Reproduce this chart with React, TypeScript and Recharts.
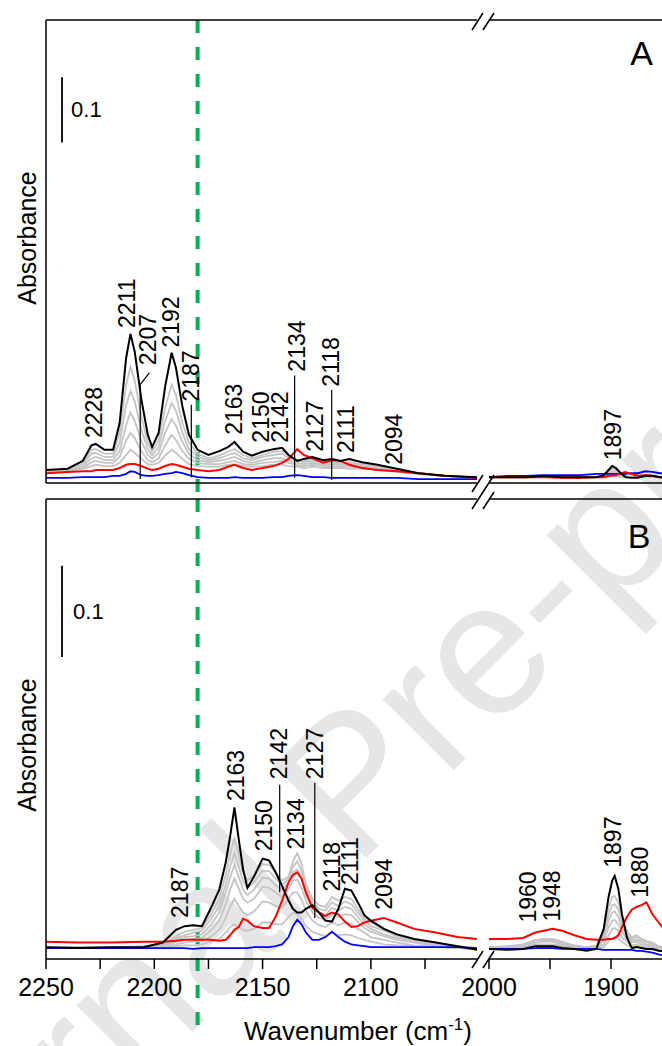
import React from 'react'
import { LineChart, Line, XAxis, YAxis, ReferenceLine, ReferenceDot } from 'recharts'

const PAGE_W = 662
const PAGE_H = 1046
const CHART_W = 700
const FONT = "'Liberation Sans', Arial, Helvetica, sans-serif"
const GREY = '#c4c4c4'
const GREEN = '#00b050'
const GUIDE_W = 2180 // green dashed guide, cm-1

// All absorbances are x1000 (mAbs). Left segments 2250-2051 cm-1, right 2000-1850 cm-1.

// ---- Panel A ----
const A_L_W = [2250, 2240, 2233, 2229, 2227, 2223, 2219, 2216, 2213, 2211, 2209, 2206, 2203, 2201, 2198, 2195, 2192, 2190, 2187, 2184, 2180, 2175, 2170, 2166, 2163, 2159, 2155, 2150, 2145, 2141, 2138, 2134, 2131, 2127, 2122, 2118, 2114, 2110, 2104, 2097, 2088, 2078, 2066, 2051]
const A_L_BLACK = [20, 22, 34, 58, 60, 51, 51, 92, 192, 229, 201, 129, 74, 55, 77, 148, 200, 177, 117, 74, 51, 43, 49, 55, 63, 48, 42, 48, 52, 54, 43, 34, 37, 40, 35, 37, 34, 37, 32, 28, 22, 15, 11, 9]
const A_L_RED = [15, 17, 18, 18, 20, 20, 20, 23, 28, 29, 29, 26, 22, 20, 22, 26, 29, 28, 25, 22, 20, 18, 20, 25, 28, 23, 20, 23, 26, 31, 37, 52, 43, 38, 31, 35, 34, 28, 23, 20, 18, 15, 11, 8]
const A_L_BLUE = [8, 8, 9, 9, 9, 9, 11, 11, 14, 18, 17, 12, 11, 11, 12, 14, 15, 17, 15, 12, 9, 8, 8, 8, 9, 8, 8, 8, 9, 9, 11, 12, 11, 9, 9, 8, 8, 8, 8, 8, 8, 6, 6, 6]
const A_L_GREYS = [
  [20, 20, 32, 51, 52, 45, 45, 77, 151, 178, 157, 102, 62, 48, 65, 115, 151, 135, 92, 62, 45, 38, 42, 48, 52, 43, 38, 43, 48, 49, 42, 35, 34, 37, 32, 34, 31, 32, 29, 26, 20, 15, 11, 8],
  [18, 20, 29, 45, 46, 40, 40, 62, 120, 141, 125, 82, 52, 42, 55, 95, 123, 111, 77, 52, 40, 35, 38, 43, 46, 38, 35, 40, 43, 45, 38, 34, 32, 34, 31, 31, 29, 31, 28, 25, 20, 15, 11, 8],
  [18, 18, 26, 38, 40, 35, 35, 49, 89, 108, 95, 65, 43, 37, 46, 77, 98, 88, 63, 45, 35, 32, 34, 37, 40, 34, 31, 35, 38, 38, 34, 31, 29, 31, 28, 29, 28, 28, 26, 23, 18, 14, 11, 8],
  [18, 18, 23, 32, 34, 31, 31, 40, 65, 77, 69, 49, 35, 32, 38, 58, 74, 66, 49, 37, 31, 29, 29, 32, 34, 29, 28, 31, 32, 34, 31, 28, 26, 28, 26, 26, 25, 25, 23, 22, 18, 14, 11, 8],
  [18, 18, 22, 26, 28, 26, 26, 31, 43, 51, 46, 37, 29, 28, 31, 42, 51, 46, 37, 29, 26, 25, 25, 28, 29, 26, 25, 26, 28, 28, 26, 25, 23, 25, 23, 23, 23, 22, 22, 20, 17, 14, 11, 8],
]

const A_R_W = [2000, 1985, 1970, 1955, 1940, 1925, 1912, 1906, 1902, 1899, 1896, 1892, 1888, 1884, 1878, 1872, 1866, 1860, 1850]
const A_R_BLACK = [9, 9, 9, 11, 9, 9, 9, 12, 20, 26, 23, 15, 9, 8, 8, 11, 11, 9, 9]
const A_R_RED = [9, 9, 9, 9, 8, 8, 9, 9, 11, 11, 12, 15, 17, 14, 11, 12, 11, 9, 9]
const A_R_BLUE = [9, 11, 11, 12, 12, 12, 14, 14, 14, 14, 14, 14, 14, 15, 15, 18, 17, 15, 15]
const A_R_GREYS = [
  [9, 9, 9, 9, 9, 9, 9, 11, 17, 22, 20, 14, 11, 9, 9, 11, 11, 9, 9],
  [9, 9, 9, 9, 9, 9, 9, 11, 14, 18, 17, 12, 11, 9, 9, 9, 9, 9, 9],
  [9, 9, 9, 9, 9, 9, 9, 11, 12, 15, 14, 11, 9, 9, 9, 9, 9, 9, 9],
  [9, 9, 9, 9, 9, 9, 9, 9, 11, 12, 12, 11, 9, 9, 9, 9, 9, 9, 9],
  [9, 9, 9, 9, 9, 9, 9, 9, 9, 11, 11, 9, 9, 9, 9, 9, 9, 9, 9],
]

// ---- Panel B ----
const B_L_W = [2250, 2235, 2220, 2205, 2196, 2190, 2186, 2182, 2178, 2174, 2170, 2167, 2165, 2163, 2161, 2159, 2157, 2154, 2150, 2147, 2144, 2141, 2138, 2136, 2134, 2132, 2130, 2127, 2124, 2121, 2118, 2115, 2112, 2109, 2106, 2103, 2100, 2094, 2088, 2080, 2070, 2060, 2051]
const B_L_BLACK = [13, 12, 13, 13, 18, 32, 36, 37, 36, 55, 76, 106, 134, 166, 131, 98, 78, 90, 110, 108, 95, 80, 64, 55, 51, 51, 55, 59, 51, 42, 41, 55, 77, 75, 62, 48, 42, 33, 27, 22, 18, 14, 10]
const B_L_RED = [19, 18, 18, 19, 19, 20, 21, 21, 21, 21, 20, 21, 26, 32, 35, 44, 42, 36, 34, 34, 46, 64, 84, 92, 95, 88, 73, 56, 51, 47, 51, 49, 41, 35, 36, 40, 42, 45, 40, 33, 29, 24, 22]
const B_L_BLUE = [12, 12, 12, 12, 12, 12, 12, 11, 12, 12, 12, 12, 12, 12, 12, 12, 12, 13, 13, 13, 14, 16, 24, 36, 43, 38, 29, 21, 21, 24, 30, 24, 19, 16, 15, 14, 13, 13, 13, 13, 13, 13, 12]
const B_L_GREYS = [
  [13, 13, 13, 14, 16, 25, 30, 32, 34, 48, 66, 93, 114, 133, 114, 95, 86, 92, 104, 103, 95, 86, 90, 107, 116, 104, 82, 66, 59, 57, 68, 64, 68, 66, 55, 45, 40, 33, 27, 22, 18, 14, 12],
  [13, 13, 13, 13, 15, 23, 26, 29, 31, 43, 58, 82, 101, 116, 101, 85, 78, 84, 97, 96, 88, 81, 88, 101, 107, 96, 77, 62, 55, 53, 62, 58, 63, 60, 51, 42, 36, 31, 25, 21, 16, 14, 12],
  [13, 12, 13, 13, 15, 21, 24, 25, 27, 37, 51, 73, 89, 103, 90, 76, 70, 76, 89, 88, 81, 76, 84, 95, 98, 88, 71, 57, 51, 48, 56, 53, 57, 55, 46, 38, 33, 27, 23, 19, 15, 13, 12],
  [12, 12, 12, 13, 14, 19, 21, 22, 23, 31, 42, 60, 76, 88, 77, 66, 62, 66, 79, 78, 73, 68, 77, 86, 87, 78, 64, 51, 45, 43, 48, 46, 49, 48, 41, 34, 30, 25, 21, 18, 14, 13, 11],
  [12, 12, 12, 12, 13, 16, 18, 19, 20, 24, 32, 45, 57, 66, 58, 51, 48, 52, 63, 62, 58, 56, 66, 73, 73, 65, 53, 42, 37, 35, 40, 37, 40, 38, 33, 29, 24, 21, 18, 15, 13, 12, 11],
  [12, 12, 12, 12, 13, 14, 15, 15, 16, 19, 22, 29, 35, 38, 35, 32, 31, 33, 40, 40, 38, 38, 46, 51, 49, 44, 36, 30, 27, 25, 29, 26, 27, 26, 23, 21, 19, 16, 15, 14, 13, 12, 11],
]

const B_R_W = [2000, 1985, 1972, 1962, 1955, 1948, 1940, 1930, 1920, 1912, 1906, 1902, 1899, 1897, 1894, 1891, 1887, 1883, 1879, 1875, 1871, 1866, 1861, 1850]
const B_R_BLACK = [11, 10, 11, 14, 14, 14, 12, 11, 9, 11, 33, 68, 86, 91, 77, 49, 24, 12, 13, 12, 11, 11, 9, 8]
const B_R_RED = [22, 22, 23, 29, 31, 33, 31, 26, 22, 21, 21, 22, 22, 23, 26, 35, 46, 54, 57, 59, 62, 49, 40, 22]
const B_R_BLUE = [11, 11, 11, 12, 12, 12, 11, 11, 11, 11, 10, 10, 10, 10, 10, 10, 10, 10, 9, 9, 8, 7, 5, 2]
const B_R_GREYS = [
  [13, 14, 16, 21, 22, 22, 19, 15, 13, 15, 31, 57, 68, 69, 62, 46, 31, 24, 26, 22, 20, 18, 14, 11],
  [13, 13, 15, 20, 21, 20, 18, 14, 13, 14, 26, 49, 59, 60, 54, 41, 27, 22, 24, 21, 19, 16, 13, 11],
  [12, 13, 14, 18, 19, 19, 16, 14, 12, 13, 23, 42, 51, 52, 46, 35, 25, 20, 21, 19, 16, 15, 13, 10],
  [12, 12, 13, 16, 16, 16, 15, 13, 12, 13, 20, 34, 42, 43, 38, 30, 22, 18, 19, 16, 15, 14, 12, 10],
  [12, 12, 13, 14, 15, 15, 14, 12, 11, 12, 16, 26, 33, 34, 31, 24, 19, 15, 16, 14, 13, 13, 11, 9],
  [11, 11, 12, 13, 13, 13, 12, 11, 11, 11, 13, 19, 23, 24, 22, 19, 15, 13, 13, 12, 12, 11, 10, 9],
]

// peak labels: text, wavenumber, absorbance (x1000) at the foot of the label
type Peak = { text: string; w: number; v: number }
const A_L_PEAKS: Peak[] = [
  { text: '2228', w: 2227.8, v: 69 },
  { text: '2211', w: 2212.5, v: 238 },
  { text: '2207', w: 2202.8, v: 181 },
  { text: '2192', w: 2192.1, v: 208 },
  { text: '2187', w: 2182.9, v: 125 },
  { text: '2163', w: 2163, v: 74 },
  { text: '2150', w: 2150.5, v: 62 },
  { text: '2142', w: 2142.1, v: 62 },
  { text: '2134', w: 2134.3, v: 171 },
  { text: '2127', w: 2125.9, v: 48 },
  { text: '2118', w: 2118.5, v: 148 },
  { text: '2111', w: 2111.6, v: 46 },
  { text: '2094', w: 2089.4, v: 28 },
]
const A_R_PEAKS: Peak[] = [{ text: '1897', w: 1898.4, v: 35 }]
const B_L_PEAKS: Peak[] = [
  { text: '2187', w: 2188, v: 45 },
  { text: '2163', w: 2162.5, v: 173 },
  { text: '2150', w: 2149.5, v: 118 },
  { text: '2142', w: 2142.6, v: 197 },
  { text: '2134', w: 2134.7, v: 120 },
  { text: '2127', w: 2126, v: 197 },
  { text: '2118', w: 2118.1, v: 74 },
  { text: '2111', w: 2109.7, v: 81 },
  { text: '2094', w: 2094, v: 54 },
]
const B_R_PEAKS: Peak[] = [
  { text: '1960', w: 1968, v: 40 },
  { text: '1948', w: 1948.4, v: 41 },
  { text: '1897', w: 1898.4, v: 100 },
  { text: '1880', w: 1876.2, v: 67 },
]

// leader lines [w1, v1, w2, v2]
const A_L_LEADERS = [
  [2202.3, 169, 2206.5, 151],
  [2206.5, 151, 2206.5, 6],
  [2182.9, 120, 2182.9, 9],
  [2135.2, 165, 2135.2, 8],
  [2118.1, 143, 2118.1, 5],
]
const B_L_LEADERS = [
  [2142.1, 191, 2142.1, 73],
  [2125.9, 193, 2125.9, 45],
]

const LEFT_TICKS = [2250, 2225, 2200, 2175, 2150, 2125, 2100, 2075]
const RIGHT_TICKS = [2000, 1950, 1900, 1850]
const A_YTICKS = Array.from({ length: 28 }, (_, i) => 13 + 25 * i)
const B_YTICKS = Array.from({ length: 11 }, (_, i) => 4 + 50 * i)

const AXIS = { stroke: '#000', strokeWidth: 1.5 }

const vText = (text: string) => (p: any) => (
  <text x={p.cx} y={p.cy} transform={`rotate(-90 ${p.cx} ${p.cy})`} fontSize={23} fontFamily={FONT}
    fill="#000" dominantBaseline="central">{text}</text>
)
const hText = (text: string, size: number, anchor: 'start' | 'middle') => (p: any) => (
  <text x={p.cx} y={p.cy} fontSize={size} fontFamily={FONT} fill="#000" textAnchor={anchor}
    dominantBaseline="central">{text}</text>
)
const makeTick = (every: number) => (p: any) => {
  if (p.payload.value % every !== 0) return <g />
  return (
    <text x={p.x} y={p.y + 25} textAnchor="middle" fontSize={25} fontFamily={FONT} fill="#000">
      {p.payload.value}
    </text>
  )
}

type SegProps = {
  w: number[]; black: number[]; red: number[]; blue: number[]; greys: number[][]
  xDomain: [number, number]; xTicks: number[]; left: number; right: number
  top: number; bottom: number; yMax: number; yTicks: number[]
  showY: boolean; labelEvery: number | null
  peaks: Peak[]; leaders: number[][]
  guide?: [number, number]
  scaleBar?: { w: number; from: number; textW: number }
  letter?: { text: string; w: number; v: number }
}

function Segment(s: SegProps) {
  const rows = s.w.map((w, i) => {
    const r: Record<string, number> = { w, black: s.black[i], red: s.red[i], blue: s.blue[i] }
    s.greys.forEach((g, k) => { r['g' + k] = g[i] })
    return r
  })
  const ax = { xAxisId: 'b', yAxisId: 'y' }
  // axes get 1px of room each (Recharts skips axes with zero size)
  const margin = {
    top: s.top - 1,
    bottom: PAGE_H - s.bottom - 1,
    left: s.left - (s.showY ? 1 : 0),
    right: CHART_W - s.right,
  }
  return (
    <div style={{ position: 'absolute', left: 0, top: 0 }}>
      <LineChart width={CHART_W} height={PAGE_H} data={rows} margin={margin}>
        <XAxis xAxisId="b" dataKey="w" type="number" domain={s.xDomain} reversed allowDataOverflow
          ticks={s.xTicks} interval={0} height={1} tickSize={10} tickMargin={2}
          axisLine={AXIS} tickLine={AXIS} tick={s.labelEvery ? makeTick(s.labelEvery) : false} />
        <XAxis xAxisId="t" orientation="top" dataKey="w" type="number" domain={s.xDomain} reversed
          allowDataOverflow ticks={s.xTicks} interval={0} height={1} tickSize={4}
          axisLine={AXIS} tickLine={AXIS} tick={false} mirror />
        <YAxis yAxisId="y" type="number" domain={[0, s.yMax]} allowDataOverflow ticks={s.yTicks}
          interval={0} width={1} tickSize={4} tick={false} hide={!s.showY} mirror
          axisLine={AXIS} tickLine={AXIS} />
        {s.guide && (
          <ReferenceLine {...ax} segment={[{ x: GUIDE_W, y: s.guide[0] }, { x: GUIDE_W, y: s.guide[1] }]}
            stroke={GREEN} strokeWidth={4} strokeDasharray="13 14" ifOverflow="visible" />
        )}
        {s.greys.map((_, k) => (
          <Line key={'g' + k} {...ax} dataKey={'g' + k} stroke={GREY} strokeWidth={1.8} dot={false}
            activeDot={false} isAnimationActive={false} />
        ))}
        <Line {...ax} dataKey="blue" stroke="#0000ff" strokeWidth={1.8} dot={false} activeDot={false} isAnimationActive={false} />
        <Line {...ax} dataKey="red" stroke="#ff0000" strokeWidth={2} dot={false} activeDot={false} isAnimationActive={false} />
        <Line {...ax} dataKey="black" stroke="#000" strokeWidth={2} dot={false} activeDot={false} isAnimationActive={false} />
        {s.leaders.map((l, i) => (
          <ReferenceLine key={'l' + i} {...ax} segment={[{ x: l[0], y: l[1] }, { x: l[2], y: l[3] }]}
            stroke="#000" strokeWidth={1.2} ifOverflow="visible" />
        ))}
        {s.peaks.map((p) => (
          <ReferenceDot key={p.text + p.w} {...ax} x={p.w} y={p.v} r={0} ifOverflow="visible" shape={vText(p.text)} />
        ))}
        {s.scaleBar && (
          <ReferenceLine {...ax} segment={[{ x: s.scaleBar.w, y: s.scaleBar.from }, { x: s.scaleBar.w, y: s.scaleBar.from + 100 }]}
            stroke="#000" strokeWidth={1.8} ifOverflow="visible" />
        )}
        {s.scaleBar && (
          <ReferenceDot {...ax} x={s.scaleBar.textW} y={s.scaleBar.from + 50} r={0} ifOverflow="visible"
            shape={hText('0.1', 22, 'start')} />
        )}
        {s.letter && (
          <ReferenceDot {...ax} x={s.letter.w} y={s.letter.v} r={0} ifOverflow="visible"
            shape={hText(s.letter.text, 34, 'middle')} />
        )}
      </LineChart>
    </div>
  )
}

function BreakMark({ y }: { y: number }) {
  return (
    <g stroke="#000" strokeWidth={1.5}>
      <line x1={472} y1={y + 9} x2={483} y2={y - 8} />
      <line x1={483} y1={y + 9} x2={494} y2={y - 8} />
    </g>
  )
}

export default function App() {
  const A = { top: 21, bottom: 483, yMax: 711, yTicks: A_YTICKS }
  const B = { top: 500, bottom: 959, yMax: 504, yTicks: B_YTICKS }
  const L = { xDomain: [2051, 2250] as [number, number], xTicks: LEFT_TICKS, left: 47, right: 477, showY: true }
  const R = { xDomain: [1850, 2000] as [number, number], xTicks: RIGHT_TICKS, left: 489, right: 672, showY: false }
  return (
    <div style={{ position: 'absolute', left: 0, top: 0, width: PAGE_W, height: PAGE_H, overflow: 'hidden', background: '#fff' }}>
      <svg width={PAGE_W} height={PAGE_H} style={{ position: 'absolute', left: 0, top: 0 }}>
        <text x={396} y={828} transform="rotate(-45 396 828)" textAnchor="middle" fontSize={190}
          fontFamily={FONT} fill="#e6e6e6">Journal Pre-proof</text>
      </svg>
      <Segment {...A} {...L} w={A_L_W} black={A_L_BLACK} red={A_L_RED} blue={A_L_BLUE} greys={A_L_GREYS}
        labelEvery={null} peaks={A_L_PEAKS} leaders={A_L_LEADERS} guide={[711, -26]}
        scaleBar={{ w: 2242.6, from: 523, textW: 2238.4 }} />
      <Segment {...A} {...R} w={A_R_W} black={A_R_BLACK} red={A_R_RED} blue={A_R_BLUE} greys={A_R_GREYS}
        labelEvery={null} peaks={A_R_PEAKS} leaders={[]} letter={{ text: 'A', w: 1875, v: 660 }} />
      <Segment {...B} {...L} w={B_L_W} black={B_L_BLACK} red={B_L_RED} blue={B_L_BLUE} greys={B_L_GREYS}
        labelEvery={50} peaks={B_L_PEAKS} leaders={B_L_LEADERS} guide={[504, -73]}
        scaleBar={{ w: 2242.6, from: 331, textW: 2237.5 }} />
      <Segment {...B} {...R} w={B_R_W} black={B_R_BLACK} red={B_R_RED} blue={B_R_BLUE} greys={B_R_GREYS}
        labelEvery={100} peaks={B_R_PEAKS} leaders={[]} letter={{ text: 'B', w: 1877, v: 463 }} />
      <svg width={PAGE_W} height={PAGE_H} style={{ position: 'absolute', left: 0, top: 0, pointerEvents: 'none' }}>
        {[21, 483, 500, 959].map((y) => <BreakMark key={y} y={y} />)}
        <text x={27} y={238} transform="rotate(-90 27 238)" textAnchor="middle" dominantBaseline="central"
          fontSize={25} fontFamily={FONT}>Absorbance</text>
        <text x={27} y={745} transform="rotate(-90 27 745)" textAnchor="middle" dominantBaseline="central"
          fontSize={25} fontFamily={FONT}>Absorbance</text>
        <text x={358} y={1040} textAnchor="middle" fontSize={26} fontFamily={FONT}>
          Wavenumber (cm<tspan dy={-10} fontSize={17}>-1</tspan><tspan dy={10}>)</tspan>
        </text>
      </svg>
    </div>
  )
}
